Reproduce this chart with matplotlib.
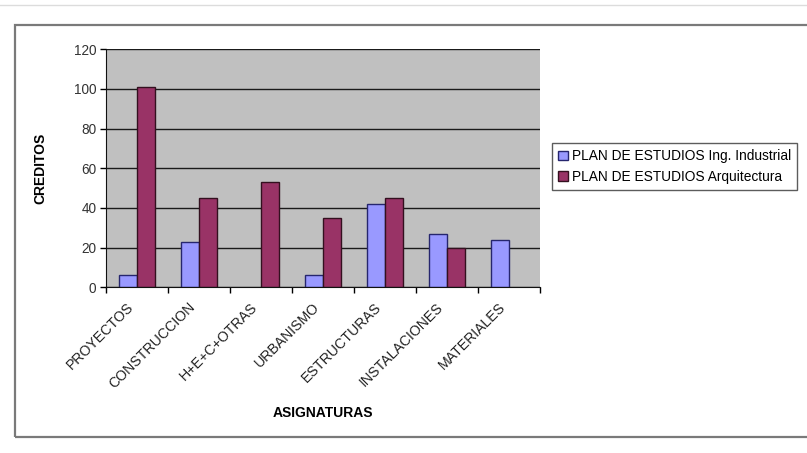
import numpy as np
import matplotlib.pyplot as plt
from matplotlib.patches import Rectangle
from matplotlib.transforms import ScaledTranslation

plt.rcParams["font.family"] = ["Liberation Sans", "DejaVu Sans"]

categories = ["PROYECTOS", "CONSTRUCCION", "H+E+C+OTRAS", "URBANISMO",
              "ESTRUCTURAS", "INSTALACIONES", "MATERIALES"]
industrial = [6, 23, 0, 6, 42, 27, 24]
arquitectura = [101, 45, 53, 35, 45, 20, 0]
series_names = ["PLAN DE ESTUDIOS Ing. Industrial", "PLAN DE ESTUDIOS Arquitectura"]
y_ticks = [0, 20, 40, 60, 80, 100, 120]

W, H = 807, 453
fig = plt.figure(figsize=(W / 100, H / 100), dpi=100)
fig.patch.set_facecolor("white")

# outer chart frame (like the Excel chart area)
fig.add_artist(Rectangle((15 / W, 1 - 437 / H), 1.0, (437 - 25) / H,
                         transform=fig.transFigure, fill=False,
                         edgecolor="#7a7a7a", lw=1.6))
fig.add_artist(plt.Line2D([0, 1], [1 - 5 / H, 1 - 5 / H], transform=fig.transFigure,
                          color="#dcdcdc", lw=1.0))

ax = fig.add_axes([106 / W, 1 - 287.3 / H, 434 / W, 238 / H])
ax.set_facecolor("#c0c0c0")

x = np.arange(len(categories))
bw = 0.29
b1 = ax.bar(x - bw / 2, industrial, bw, color="#9999ff", edgecolor="#26266e",
            lw=1.0, label=series_names[0], zorder=3)
b2 = ax.bar(x + bw / 2, arquitectura, bw, color="#993366", edgecolor="#33101f",
            lw=1.0, label=series_names[1], zorder=3)
for p in list(b1) + list(b2):
    if p.get_height() == 0:
        p.set_visible(False)

ax.set_xlim(-0.5, len(categories) - 0.5)
ax.set_ylim(0, 120)
ax.set_yticks(y_ticks)
ax.yaxis.grid(True, color="#1a1a1a", lw=1.0, zorder=1)
ax.tick_params(axis="y", direction="out", length=4, width=1, labelsize=9.8,
               labelcolor="#333333", pad=3)

# category labels at centres, tick marks at boundaries
ax.set_xticks(x)
ax.set_xticklabels(categories, rotation=45, ha="right", rotation_mode="anchor",
                   fontsize=10.2, color="#222222")
ax.tick_params(axis="x", which="major", length=0, pad=9)
shift = ScaledTranslation(-11 / 100, 0, fig.dpi_scale_trans)
for lab in ax.get_xticklabels():
    lab.set_transform(lab.get_transform() + shift)
ax.set_xticks(np.arange(len(categories) + 1) - 0.5, minor=True)
ax.tick_params(axis="x", which="minor", direction="out", length=4, width=1)

for side in ["top", "right"]:
    ax.spines[side].set_visible(False)
ax.spines["left"].set_color("#111111")
ax.spines["bottom"].set_color("#111111")
ax.spines["left"].set_zorder(4)
ax.spines["bottom"].set_zorder(4)

ax.set_xlabel("ASIGNATURAS", fontsize=10, fontweight="bold", labelpad=11)
ax.set_ylabel("CREDITOS", fontsize=10, fontweight="bold", labelpad=19)

leg = ax.legend(loc="upper left", bbox_to_anchor=(552 / W, 1 - 143 / H),
                bbox_transform=fig.transFigure, fontsize=9.9, frameon=True,
                fancybox=False, edgecolor="#333333", handlelength=0.7,
                handleheight=0.7, handletextpad=0.3, borderpad=0.45,
                labelspacing=0.5, borderaxespad=0)
leg.get_frame().set_linewidth(1.0)

fig.savefig("out.png", dpi=100)
